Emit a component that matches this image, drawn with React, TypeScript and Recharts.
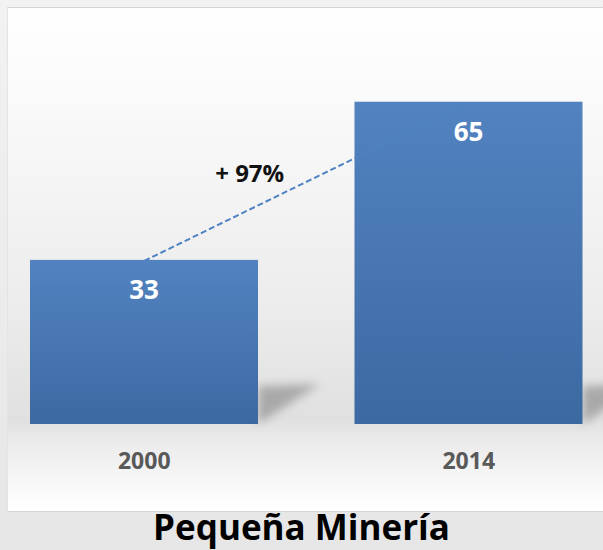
import React from 'react';
import { ComposedChart, Bar, XAxis, YAxis, LabelList, ReferenceLine } from 'recharts';

const categories = ['2000', '2014'];
const values = [33, 65];
const growthLabel = '+ 97%';
const title = 'Pequeña Minería';

const data = categories.map((c, i) => ({ year: c, value: values[i] }));

const FONT = '"Open Sans", "Noto Sans", sans-serif';

const BarShape = (props: any) => {
  const { x, y, width, height } = props;
  const bottom = y + height;
  return (
    <g>
      <polygon
        points={`${x + width},${bottom} ${x + width},${bottom - 38} ${x + width + 62},${bottom - 40}`}
        fill="#7a7a7a"
        opacity={0.55}
        filter="url(#shadowBlur)"
      />
      <rect x={x} y={y - 1} width={width} height={height + 1} fill="url(#barGrad)" />
    </g>
  );
};

const BarValue = (props: any) => {
  const { x, y, width, value } = props;
  return (
    <text x={x + width / 2} y={y + 38} textAnchor="middle" fill="#ffffff" fontFamily={FONT} fontWeight={700} fontSize={26}>
      {value}
    </text>
  );
};

const Tick = (props: any) => {
  const { x, y, payload } = props;
  return (
    <text x={x} y={y + 45} textAnchor="middle" fill="#595959" fontFamily={FONT} fontWeight={700} fontSize={23}>
      {payload.value}
    </text>
  );
};

const GrowthLabel = (props: any) => {
  const vb = props.viewBox || {};
  const t = 0.325;
  const w = Math.abs(vb.width || 0);
  const h = Math.abs(vb.height || 0);
  const left = Math.min(vb.x, vb.x + (vb.width || 0));
  const top = Math.min(vb.y, vb.y + (vb.height || 0));
  const cx = left + t * w;
  const cy = top + h - t * h;
  return (
    <text x={cx} y={cy - 27} textAnchor="middle" fill="#111111" fontFamily={FONT} fontWeight={700} fontSize={24}>
      {growthLabel}
    </text>
  );
};

export default function App() {
  return (
    <div
      style={{
        position: 'absolute',
        left: 0,
        top: 0,
        width: 603,
        height: 550,
        overflow: 'hidden',
        background: 'linear-gradient(180deg, #f2f2f2 0%, #e6e6e6 100%)',
      }}
    >
      <div
        style={{
          position: 'absolute',
          left: 7,
          top: 7,
          width: 596,
          height: 503,
          borderTop: '1px solid #d6d6d6',
          borderBottom: '1px solid #d6d6d6',
          borderLeft: '1px solid #e4e4e4',
          background:
            'linear-gradient(180deg, #ffffff 0px, #fafafa 90px, #ececec 300px, #e0e0e0 412px, #eaeaea 430px, #f6f6f6 470px, #ffffff 500px)',
        }}
      />
      <div style={{ position: 'absolute', left: 0, top: 0 }}>
        <ComposedChart
          width={603}
          height={550}
          data={data}
          margin={{ top: 78, right: -28, bottom: 86, left: -18 }}
        >
          <defs>
            <linearGradient id="barGrad" x1="0" y1="0" x2="0" y2="1">
              <stop offset="0%" stopColor="#5283c0" />
              <stop offset="100%" stopColor="#3d69a2" />
            </linearGradient>
            <filter id="shadowBlur" x="-50%" y="-50%" width="200%" height="200%">
              <feGaussianBlur stdDeviation="5" />
            </filter>
          </defs>
          <XAxis
            dataKey="year"
            height={40}
            axisLine={false}
            tickLine={false}
            tickSize={0}
            tickMargin={0}
            tick={<Tick />}
            interval={0}
          />
          <YAxis hide domain={[0, 70]} />
          <ReferenceLine
            segment={[
              { x: categories[0], y: values[0] },
              { x: categories[1], y: values[1] },
            ]}
            stroke="#4f82c2"
            strokeWidth={2}
            strokeDasharray="6 3"
            ifOverflow="visible"
            label={<GrowthLabel />}
          />
          <Bar
            dataKey="value"
            barSize={228}
            shape={<BarShape />}
            isAnimationActive={false}
          >
            <LabelList dataKey="value" content={<BarValue />} />
          </Bar>
        </ComposedChart>
      </div>
      <div
        style={{
          position: 'absolute',
          left: 0,
          width: 603,
          top: 503,
          textAlign: 'center',
          fontFamily: FONT,
          fontWeight: 700,
          fontSize: 35,
          color: '#000',
          lineHeight: '48px',
        }}
      >
        {title}
      </div>
    </div>
  );
}
